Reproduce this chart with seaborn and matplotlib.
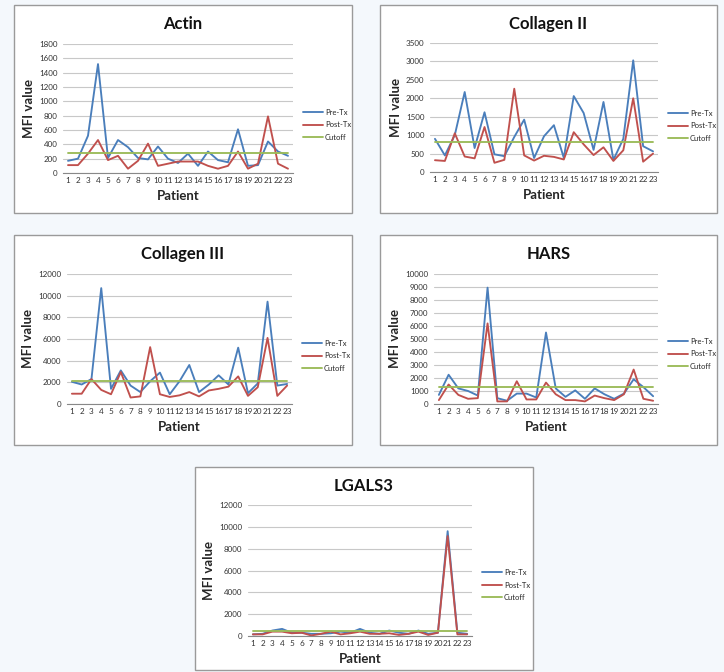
import matplotlib
matplotlib.use("Agg")
import matplotlib.pyplot as plt
from matplotlib.patches import Rectangle
import pandas as pd
import seaborn as sns

patients = list(range(1, 24))
series_names = ["Pre-Tx", "Post-Tx", "Cutoff"]
palette = {"Pre-Tx": "#4A7EBB", "Post-Tx": "#C0504D", "Cutoff": "#9BBB59"}

# values
actin_pre = [170, 200, 520, 1520, 210, 460, 360, 210, 190, 370, 200, 140, 270, 100, 300, 180, 150, 610, 100, 110, 440, 300, 240]
actin_post = [110, 110, 270, 460, 180, 240, 60, 170, 410, 100, 130, 160, 160, 160, 100, 60, 100, 300, 60, 130, 790, 130, 60]
actin_cut = 275
actin_yticks = [0, 200, 400, 600, 800, 1000, 1200, 1400, 1600, 1800]

col2_pre = [900, 450, 1000, 2170, 650, 1620, 480, 430, 950, 1420, 380, 970, 1270, 380, 2060, 1600, 600, 1900, 330, 900, 3030, 700, 560]
col2_post = [320, 300, 1050, 420, 370, 1220, 250, 330, 2260, 450, 310, 440, 410, 340, 1080, 750, 460, 670, 300, 590, 2000, 280, 500]
col2_cut = 820
col2_yticks = [0, 500, 1000, 1500, 2000, 2500, 3000, 3500]

col3_pre = [2050, 1800, 2300, 10700, 1400, 3100, 1700, 1100, 2100, 2900, 900, 2100, 3600, 1100, 1800, 2650, 1800, 5200, 1000, 1900, 9450, 1700, 1850]
col3_post = [950, 950, 2300, 1300, 900, 2950, 600, 700, 5250, 900, 650, 800, 1100, 700, 1250, 1400, 1600, 2550, 750, 1550, 6100, 750, 1700]
col3_cut = 2100
col3_yticks = [0, 2000, 4000, 6000, 8000, 10000, 12000]

hars_pre = [700, 2250, 1200, 1000, 650, 8950, 450, 250, 800, 800, 500, 5500, 1200, 550, 1050, 400, 1200, 750, 400, 800, 1900, 1300, 600]
hars_post = [300, 1500, 700, 400, 450, 6200, 200, 200, 1750, 350, 350, 1650, 750, 300, 300, 200, 650, 450, 300, 750, 2650, 400, 250]
hars_cut = 1300
hars_yticks = [0, 1000, 2000, 3000, 4000, 5000, 6000, 7000, 8000, 9000, 10000]

lgals_pre = [150, 200, 500, 650, 300, 300, 200, 200, 250, 400, 300, 650, 300, 200, 500, 300, 200, 500, 200, 300, 9600, 300, 200]
lgals_post = [150, 150, 400, 400, 250, 300, 50, 200, 400, 150, 250, 400, 200, 200, 250, 100, 200, 400, 100, 300, 9150, 150, 150]
lgals_cut = 500
lgals_yticks = [0, 2000, 4000, 6000, 8000, 10000, 12000]

W, H = 724, 672
sns.set_theme(style="white")
plt.rcParams["font.family"] = ["Lato", "DejaVu Sans"]

fig = plt.figure(figsize=(W / 100, H / 100), dpi=100)
fig.patch.set_facecolor("#f4f8fc")

def fx(x):
    return x / W

def fy(y):
    return 1 - y / H

# panel: title, pre, post, cutoff, yticks, frame box (x0,y0,x1,y1), axes box, legend anchor
panels = [
    ("Actin", actin_pre, actin_post, actin_cut, actin_yticks, (14, 5, 352, 213), (63, 44, 293, 173), (299, 125)),
    ("Collagen II", col2_pre, col2_post, col2_cut, col2_yticks, (380, 5, 717, 213), (430, 43, 658, 172), (664, 126)),
    ("Collagen III", col3_pre, col3_post, col3_cut, col3_yticks, (14, 235, 352, 445), (67, 274, 292, 404), (298, 356)),
    ("HARS", hars_pre, hars_post, hars_cut, hars_yticks, (380, 235, 717, 445), (434, 274, 658, 404), (664, 354)),
    ("LGALS3", lgals_pre, lgals_post, lgals_cut, lgals_yticks, (195, 467, 533, 670), (248, 505, 472, 636), (478, 585)),
]

for title, pre, post, cut, yticks, frame, box, leg in panels:
    fig.patches.append(Rectangle((fx(frame[0]), fy(frame[3])), fx(frame[2] - frame[0]), (frame[3] - frame[1]) / H,
                                 transform=fig.transFigure, facecolor="white", edgecolor="#9a9a9a",
                                 linewidth=1.0, zorder=-1))
    ax = fig.add_axes([fx(box[0]), fy(box[3]), fx(box[2] - box[0]), (box[3] - box[1]) / H])
    ax.set_facecolor("none")
    df = pd.DataFrame({
        "Patient": patients * 3,
        "MFI": pre + post + [cut] * len(patients),
        "Series": [s for s in series_names for _ in patients],
    })
    sns.lineplot(data=df, x="Patient", y="MFI", hue="Series", palette=palette,
                 hue_order=series_names, linewidth=1.35, ax=ax)
    ax.set_xlim(0.5, 23.5)
    ax.set_ylim(yticks[0], yticks[-1])
    ax.set_yticks(yticks)
    ax.set_yticklabels([str(t) for t in yticks], fontsize=5.8, color="#333333")
    ax.set_xticks(patients)
    ax.set_xticklabels([str(p) for p in patients], fontsize=5.9, color="#333333")
    ax.set_xticks([p + 0.5 for p in range(0, 24)], minor=True)
    ax.tick_params(axis="x", which="major", length=0, pad=3)
    ax.tick_params(axis="x", which="minor", length=2.5, color="#888888", width=0.7)
    ax.tick_params(axis="y", length=0, pad=4)
    ax.yaxis.grid(True, color="#c8c8c8", linewidth=0.8)
    ax.set_axisbelow(True)
    for s in ["top", "right", "left"]:
        ax.spines[s].set_visible(False)
    ax.spines["bottom"].set_color("#888888")
    ax.spines["bottom"].set_linewidth(0.8)
    ax.set_xlabel("Patient", fontsize=9.5, fontweight="bold", labelpad=4)
    ax.set_ylabel("MFI value", fontsize=9.5, fontweight="bold", labelpad=3)
    cx = (frame[0] + frame[2]) / 2
    fig.text(fx(cx), fy(frame[1] + 19), title, fontsize=12, fontweight="bold",
             ha="center", va="center", color="#111111")
    ax.legend(loc="center left", bbox_to_anchor=(fx(leg[0]), fy(leg[1])),
              bbox_transform=fig.transFigure, frameon=False, fontsize=5.5,
              handlelength=2.6, handletextpad=0.3, labelspacing=0.7, borderpad=0)

fig.savefig("out.png", dpi=100, facecolor=fig.get_facecolor())
